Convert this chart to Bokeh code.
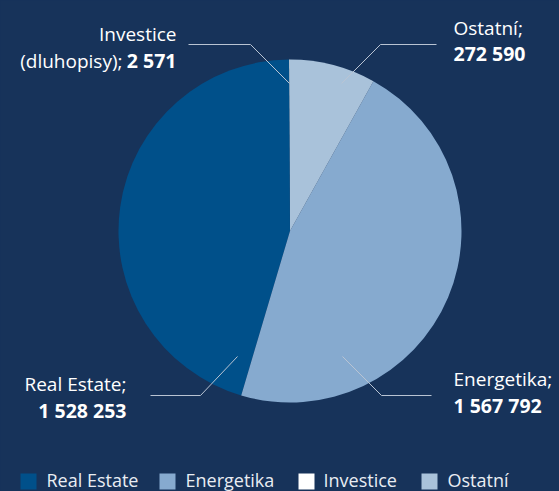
import math
from bokeh.plotting import figure
from bokeh.models import Range1d, ColumnDataSource
from bokeh.core.properties import value
from bokeh.embed import file_html
from bokeh.resources import INLINE
from bokeh.core.templates import FILE
from jinja2 import Template

# ---- data ----
categories = ["Real Estate", "Energetika", "Investice", "Ostatní"]
values = [1528253, 1567792, 2571, 272590]
colors = ["#00508A", "#86AACF", "#FFFFFF", "#A9C2DA"]
label_names = ["Real Estate;", "Energetika;", "Investice", "Ostatní;"]
value_labels = ["1 528 253", "1 567 792", "2 571", "272 590"]
draw_order = [2, 0, 1, 3]  # anticlockwise from 12 o'clock

BG = "#17335A"
W, H = 559, 491
FONT = "Open Sans"
TXT = "#FFFFFF"
LINE = "#B9C4D3"
FS = "19px"

def Y(ry):
    return H - ry

p = figure(width=W, height=H, x_range=Range1d(0, W), y_range=Range1d(0, H),
           output_backend="svg", toolbar_location=None, min_border=0)
p.axis.visible = False
p.grid.visible = False
p.outline_line_color = None
p.background_fill_color = BG
p.border_fill_color = BG

# ---- pie ----
total = float(sum(values))
cx, cy, r = 289.5, Y(230.5), 171.5
starts, ends, cols = [], [], []
cum = 0.0
for i in draw_order:
    a0 = math.pi / 2 + 2 * math.pi * cum / total
    cum += values[i]
    a1 = math.pi / 2 + 2 * math.pi * cum / total
    starts.append(a0)
    ends.append(a1)
    cols.append(colors[i])
src = ColumnDataSource(dict(s=starts, e=ends, c=cols))
p.wedge(x=cx, y=cy, radius=r, start_angle="s", end_angle="e", direction="anticlock",
        fill_color="c", line_color=None, source=src)

# ---- leader lines ----
leaders = [
    ([188, 250, 289], [44, 44, 83]),    # Investice
    ([341, 380, 436], [83, 44, 44]),    # Ostatní
    ([237, 200, 150], [356, 395, 395]), # Real Estate
    ([342, 381, 431], [356, 395, 395]), # Energetika
]
for xs, ys in leaders:
    p.line(xs, [Y(v) for v in ys], line_color=LINE, line_width=1)

def txt(x, ry, s, align="left", bold=False, size=FS, color=TXT):
    p.text(x=[x], y=[Y(ry)], text=[s], text_font=value(FONT), text_font_size=size,
           text_color=color, text_align=align, text_baseline="middle",
           text_font_style="bold" if bold else "normal")

# Investice
txt(176, 33, label_names[2], "right")
txt(122, 60, "(dluhopisy);", "right")
txt(176, 60, value_labels[2], "right", bold=True, size="19.5px")
# Ostatní
txt(453, 27, label_names[3], "left")
txt(453, 53, value_labels[3], "left", bold=True, size="19.5px")
# Energetika
txt(453, 378, label_names[1], "left")
txt(453, 405, value_labels[1], "left", bold=True, size="19.5px")
# Real Estate
txt(126, 383, label_names[0], "right")
txt(126, 410, value_labels[0], "right", bold=True, size="19.5px")

# ---- legend ----
leg_sq_x = [20, 159, 298, 421]
leg_tx_x = [46, 185, 323, 447]
p.rect(x=[v + 8 for v in leg_sq_x], y=[Y(481)] * 4, width=16, height=16,
       fill_color=colors, line_color=None)
p.text(x=leg_tx_x, y=[Y(479)] * 4, text=categories, text_font=value(FONT),
       text_font_size="18px", text_color="#E9EDF3", text_align="left",
       text_baseline="middle")

tmpl = Template("{% extends base %}{% block preamble %}<style>html,body{margin:0;padding:0;background:"
                + BG + ";overflow:hidden;}</style>{% endblock %}")
html = file_html(p, INLINE, title="chart", template=tmpl, template_variables={"base": FILE})
open("out.html", "w").write(html)
